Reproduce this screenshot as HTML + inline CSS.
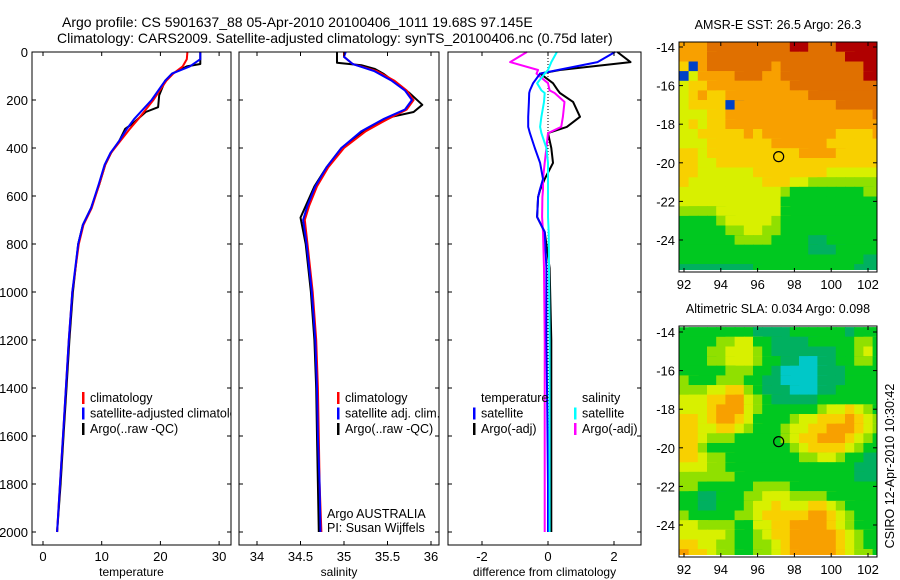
<!DOCTYPE html>
<html><head><meta charset="utf-8"><style>
html,body{margin:0;padding:0;background:#fff;}
svg{display:block;font-family:"Liberation Sans",sans-serif;}
</style></head><body>
<svg id="c" width="900" height="580"></svg>
<script>
// ---- data ----
const depthT = [0,30,60,90,120,200,280,320,370,420,470,550,650,720,800,1000,1200,1400,1600,1800,2000];
const tempSat = [26.8,26.8,25.0,22.0,20.8,18.5,15.5,14.3,13.0,11.5,10.5,9.5,8.2,6.8,6.0,5.0,4.4,3.9,3.4,2.9,2.4];
const tempClim = [24.6,24.5,23.8,22.2,21.0,18.8,16.2,14.8,13.2,11.6,10.6,9.6,8.3,6.9,6.1,5.0,4.4,3.9,3.4,2.9,2.4];
const depthTA = [0,50,60,90,120,180,230,250,300,320,370,420,470,550,650,720,800,1000,1200,1400,1600,1800,2000];
const tempArgo = [26.8,26.8,24.5,22.0,20.8,19.8,19.6,17.5,15.2,14.0,13.0,11.6,10.6,9.6,8.2,6.8,6.0,5.1,4.5,4.0,3.5,3.0,2.4];
const depthS = [0,20,50,80,120,160,200,240,280,330,400,480,560,640,700,800,1000,1200,1400,1600,1800,2000];
const salSat = [35.02,35.0,35.1,35.35,35.55,35.7,35.78,35.7,35.45,35.2,34.97,34.8,34.67,34.58,34.53,34.57,34.63,34.67,34.69,34.7,34.72,34.73];
const salClim = [35.0,35.0,35.1,35.38,35.58,35.72,35.8,35.72,35.5,35.25,35.0,34.82,34.69,34.6,34.55,34.58,34.64,34.68,34.7,34.71,34.72,34.74];
const depthSA = [0,45,55,70,90,130,170,220,250,270,330,400,480,560,690,800,1000,1200,1400,1600,1800,2000];
const salArgo = [34.92,34.92,35.2,35.35,35.45,35.6,35.75,35.9,35.8,35.55,35.22,34.97,34.8,34.66,34.5,34.56,34.62,34.66,34.68,34.69,34.7,34.71];
const depthD = [0,42,75,90,130,160,171,208,270,312,338,400,462,529,575,604,687,750,900,1200,1500,1800,2000];
const dTempSat = [2.03,1.5,0.3,-0.24,-0.45,-0.55,-0.57,-0.58,-0.6,-0.6,-0.55,-0.4,-0.24,-0.15,-0.25,-0.3,-0.33,-0.1,-0.05,-0.05,-0.02,0.0,0.0];
const dTempArgo = [2.1,2.5,0.36,-0.24,0.15,0.3,0.36,0.76,0.97,0.57,0.0,0.1,0.15,-0.1,-0.24,-0.3,-0.33,-0.1,0.05,0.1,0.1,0.1,0.1];
const dSalArgo = [-0.64,-1.15,-0.3,-0.35,0.0,0.05,0.2,0.5,0.45,0.4,0.0,-0.05,-0.1,-0.15,-0.15,-0.17,-0.18,-0.15,-0.12,-0.1,-0.1,-0.1,-0.1];
const dSalSat = [0.27,0.1,0.0,-0.1,-0.33,-0.2,-0.1,-0.12,-0.2,-0.24,-0.2,-0.05,0.0,0.0,0.0,0.0,0.0,0.02,0.03,0.05,0.05,0.05,0.05];
const depthTicks = [0,200,400,600,800,1000,1200,1400,1600,1800,2000];
const tempTicks = [0,10,20,30];
const salTicks = ["34","34.5","35","35.5","36"];
const diffTicks = [-2,0,2];
const latTicks = [-14,-16,-18,-20,-22,-24];
const lonTicks = [92,94,96,98,100,102];
const sstRows = [
"7778888888889988899999","7778888888888888889999","6078888888788888888899","0577778887788888888899",
"5667777777778888888888","5676677777777788888888","5666607777777777788888","5556677777777777777778",
"5656677777777777777777","5566666767777777766667","5556666666777777666666","6656666666666777766666",
"6655666666666666666666","6655555566666666555555","6555555556665544444444","5555555555543333333344",
"5555555555533333333333","4444555555533333333333","3333455555433333333333","3333344554433333333333",
"3333334444333322333333","3333333333333322233333","3333333333333333333322","2222222233333333333222"];
const slaRows = [
"3333333322223333332333","3333445533222233333443","3334455543222222233453","3334455543322112233443",
"3333344433211112223333","4333444332211112223333","4445566432221112233333","5556677543222223333333",
"5556777543333334556543","6656776533334556667654","6655665433345566777654","6654443333345667776543",
"6643333333334566665433","6654433333333445543322","5554433333333333333222","4444443333333333333222",
"4433333344443333333333","3322333445554444333333","3322333455655566543333","4333334456666677654333",
"5544443355667777654333","5555543345667777765433","6655443344567777765433","7665443344567777765443"];
const palette = ["#0040c8","#00c8c8","#00b060","#00c820","#90e000","#d8f000","#f8d000","#f8a000","#e07000","#b00000"];
const argoLon = 97.145, argoLat = -19.68;

// ---- helpers ----
const NS="http://www.w3.org/2000/svg", svg=document.getElementById('c');
function el(tag,attrs,parent){const e=document.createElementNS(NS,tag);for(const k in attrs)e.setAttribute(k,attrs[k]);(parent||svg).appendChild(e);return e;}
function txt(s,x,y,anchor,size,parent){const t=el('text',{x:x,y:y,'text-anchor':anchor||'start','font-size':size||12,fill:'#000'},parent);t.textContent=s;return t;}
const yD = d => 52 + d*0.24;
const panels = [
 {name:'temperature',x0:32,x1:231,sx:v=>43+v*5.87,ticks:tempTicks,title:'temperature'},
 {name:'salinity',x0:239,x1:439,sx:v=>257+(v-34)*87,ticks:salTicks,title:'salinity'},
 {name:'difference',x0:448,x1:641,sx:v=>548+v*33,ticks:diffTicks,title:'difference from climatology'}];
const TOP=52,BOT=545;

function series(depths,vals,sx,color,name,w){
  const pts=depths.map((d,k)=>sx(vals[k]).toFixed(1)+','+yD(d).toFixed(1)).join(' ');
  const l=el('polyline',{points:pts,fill:'none',stroke:color,'stroke-width':w||2,'stroke-linejoin':'round'});
  
  
}
function legend(x,y,items){
  items.forEach((it,k)=>{
    const yy=y+k*15.5;
    if(it[1]){el('rect',{x:x,y:yy-10,width:2.5,height:12,fill:it[1]});}
    const t=txt(it[0],x+8,yy,'start',12.5);
    
    
  });
}

// zero line in difference panel
const zl=el('line',{x1:panels[2].sx(0),x2:panels[2].sx(0),y1:TOP,y2:yD(2000),stroke:'#000','stroke-dasharray':'1,2'});



series(depthTA,tempArgo,panels[0].sx,'#000','temp-argo-line');
series(depthT,tempClim,panels[0].sx,'#f00','temp-climatology-line');
series(depthT,tempSat,panels[0].sx,'#00f','temp-satellite-line');
series(depthSA,salArgo,panels[1].sx,'#000','sal-argo-line');
series(depthS,salClim,panels[1].sx,'#f00','sal-climatology-line');
series(depthS,salSat,panels[1].sx,'#00f','sal-satellite-line');
series(depthD,dTempArgo,panels[2].sx,'#000','diff-temp-argo-line');
series(depthD,dSalArgo,panels[2].sx,'#f0f','diff-sal-argo-line');
series(depthD,dTempSat,panels[2].sx,'#00f','diff-temp-satellite-line');
series(depthD,dSalSat,panels[2].sx,'#0ff','diff-sal-satellite-line');

legend(82,402,[['climatology','#f00'],['satellite-adjusted climatology','#00f'],['Argo(..raw -QC)','#000']]);
// clip overflowing legend text from panel 1
el('rect',{x:231.5,y:400,width:22,height:22,fill:'#fff'});
legend(337,402,[['climatology','#f00'],['satellite adj. clim.','#00f'],['Argo(..raw -QC)','#000']]);
legend(473,402,[['temperature',null],['satellite','#00f'],['Argo(-adj)','#000']]);
legend(574,402,[['salinity',null],['satellite','#0ff'],['Argo(-adj)','#f0f']]);

panels.forEach((p,i)=>{
  const g=el('g',{});
  
  
  const f=el('rect',{x:p.x0,y:TOP,width:p.x1-p.x0,height:BOT-TOP,fill:'none',stroke:'#000','stroke-width':1},g);
  
  
  depthTicks.forEach(d=>{
    el('line',{x1:p.x0,x2:p.x0+4,y1:yD(d),y2:yD(d),stroke:'#000'},g);
    el('line',{x1:p.x1-4,x2:p.x1,y1:yD(d),y2:yD(d),stroke:'#000'},g);
    if(i===0){const t=txt(String(d),28,yD(d)+5,'end',13,g);
      
      }
  });
  p.ticks.forEach(v=>{
    const x=p.sx(+v);
    el('line',{x1:x,x2:x,y1:BOT,y2:BOT-4,stroke:'#000'},g);
    el('line',{x1:x,x2:x,y1:TOP,y2:TOP+4,stroke:'#000'},g);
    const t=txt(String(v),x,561,'middle',13,g);
    
    
  });
  const at=txt(p.title,(p.x0+p.x1)/2,576,'middle',12,g);
  
  
});

const a1=txt('Argo AUSTRALIA',327,518,'start',12.5);


const a2=txt('PI: Susan Wijffels',327,532,'start',12.5);



const t1=txt('Argo profile: CS 5901637_88 05-Apr-2010 20100406_1011 19.68S 97.145E',62,27,'start',14);


const t2=txt('Climatology: CARS2009. Satellite-adjusted climatology: synTS_20100406.nc (0.75d later)',57,43,'start',14);



// ---- maps ----
function map(rows,y14,frameTop,frameBot,title,name){
  const g=el('g',{});
  
  
  const lx=lon=>684+(lon-92)*18.4, ly=lat=>y14+(-14-lat)*19.3;
  const cid='clip'+name;
  const cp=el('clipPath',{id:cid},g);el('rect',{x:679,y:frameTop,width:198,height:frameBot-frameTop-2},cp);
  const cg=el('g',{'clip-path':'url(#'+cid+')'},g);
  rows.forEach((r,ri)=>{
    for(let ci=0;ci<r.length;ci++){
      const lon=91.75+ci*0.5, lat=-13.75-ri*0.5;
      const c=el('rect',{x:lx(lon).toFixed(1),y:ly(lat).toFixed(1),width:19.4,height:20.3,fill:palette[+r[ci]]},cg);
      
      
    }
  });
  el('rect',{x:679,y:frameTop,width:198,height:frameBot-frameTop,fill:'none',stroke:'#000'},g);
  latTicks.forEach(l=>{const y=ly(l);
    el('line',{x1:679,x2:683,y1:y,y2:y,stroke:'#000'},g);el('line',{x1:873,x2:877,y1:y,y2:y,stroke:'#000'},g);
    const t=txt(String(l),675,y+5,'end',13,g);
    
    });
  lonTicks.forEach(l=>{const x=lx(l);
    el('line',{x1:x,x2:x,y1:frameTop,y2:frameTop+4,stroke:'#000'},g);el('line',{x1:x,x2:x,y1:frameBot,y2:frameBot-4,stroke:'#000'},g);
    const t=txt(String(l),x,frameBot+17,'middle',13,g);
    
    });
  const ci=el('circle',{cx:lx(argoLon),cy:ly(argoLat),r:5,fill:'none',stroke:'#000','stroke-width':1.2},g);
  
  
  const tt=txt(title,778,frameTop-13,'middle',12.5,g);
  
  
}
map(sstRows,47,42,272,'AMSR-E SST: 26.5 Argo: 26.3','sst-map');
map(slaRows,332,326,557,'Altimetric SLA: 0.034 Argo: 0.098','sla-map');
const cs=txt('CSIRO 12-Apr-2010 10:30:42',0,0,'middle',12.5);
cs.setAttribute('transform','translate(894,466) rotate(-90)');


</script>
</body></html>
